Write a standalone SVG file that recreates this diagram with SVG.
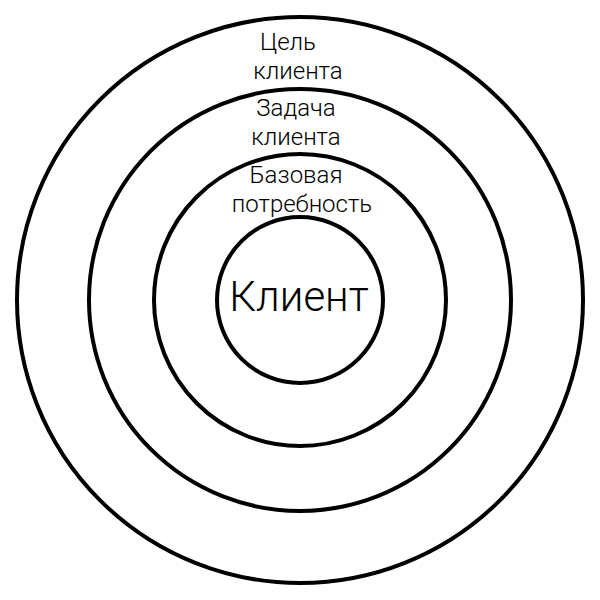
<svg xmlns="http://www.w3.org/2000/svg" width="600" height="600" viewBox="0 0 600 600">
<style>
.ring{fill:none;stroke:#000;stroke-width:4}
.lbl{font-family:Roboto,"Liberation Sans",sans-serif;font-weight:300;font-size:24px;fill:#000;text-anchor:middle}
.big{font-size:42px}
</style>
<rect width="600" height="600" fill="#fff"/>
<g id="outer"><circle class="ring" cx="300" cy="300" r="283"/><text class="lbl" x="288" y="50">Цель</text><text class="lbl" x="298" y="79">клиента</text></g>
<g id="task"><circle class="ring" cx="300" cy="300" r="211"/><text class="lbl" x="296" y="116">Задача</text><text class="lbl" x="296" y="145">клиента</text></g>
<g id="need"><circle class="ring" cx="300" cy="300" r="146"/><text class="lbl" x="296" y="183">Базовая</text><text class="lbl" x="302" y="212">потребность</text></g>
<g id="client"><circle class="ring" cx="300" cy="300" r="83"/><text class="lbl big" x="299" y="311">Клиент</text></g>
<g id="connectors"/>
</svg>
